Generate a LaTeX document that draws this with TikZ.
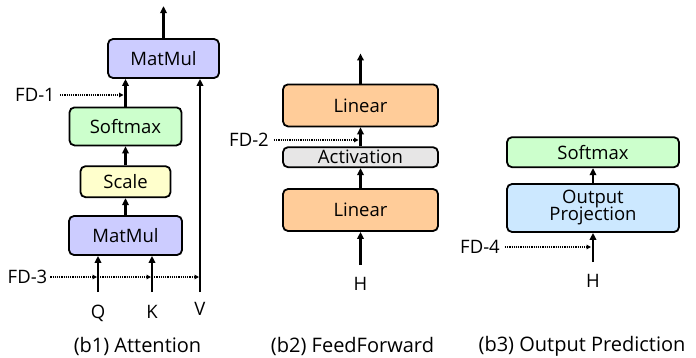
\documentclass[tikz,border=0pt]{standalone}
\usepackage{fontspec}
\setmainfont{Open Sans}
\usetikzlibrary{positioning, arrows.meta}

\definecolor{matmulcol}{HTML}{CCCCFF}
\definecolor{softcol}{HTML}{CCFFCC}
\definecolor{scalecol}{HTML}{FFFFCC}
\definecolor{linearcol}{HTML}{FFCC99}
\definecolor{actcol}{HTML}{E7E6E6}
\definecolor{projcol}{HTML}{CCE8FF}

\tikzset{
	block/.style={draw, line width=1.8pt, rounded corners=5pt, align=center,
		inner sep=0pt, font=\fontsize{18.5}{20}\selectfont},
	flow/.style={line width=2.4pt, -{Triangle[length=7pt,width=6.5pt]}},
	fd/.style={line width=1.2pt, densely dotted, -{Triangle[length=4.5pt,width=4.5pt]}},
	lbl/.style={font=\fontsize{18.5}{20}\selectfont, inner sep=0pt},
	caption/.style={font=\fontsize{20}{24}\selectfont, inner sep=0pt}
}

\begin{document}
\begin{tikzpicture}[x=1pt, y=1pt]
	\useasboundingbox (0,0) rectangle (696,357);

	% (b1) attention
	\node[block, fill=matmulcol, minimum width=113pt, minimum height=39pt] (matmul1) at (125.5,121.5) {MatMul};
	\node[block, fill=scalecol, minimum width=90pt, minimum height=31pt, above=17pt of matmul1] (scale) {Scale};
	\node[block, fill=softcol, minimum width=112pt, minimum height=38pt, above=19pt of scale] (softmax1) {Softmax};
	\node[block, fill=matmulcol, minimum width=111pt, minimum height=39pt] (matmul2) at (163.5,298.5) {MatMul};
	\coordinate[above=32pt of matmul2] (out1);

	\coordinate (qin) at (98,65);
	\coordinate (kin) at (152,65);
	\coordinate (vin) at (200,65);
	\node[lbl, below=13pt of qin] (q) {Q};
	\node[lbl, below=13pt of kin] (k) {K};
	\node[lbl, below=10pt of vin] (v) {V};

	\node[lbl] (fd3) at (27.5,80) {FD-3};
	\node[lbl] (fd1) at (35,262) {FD-1};

	\draw[flow] (qin) -- (qin |- matmul1.south);
	\draw[flow] (kin) -- (kin |- matmul1.south);
	\draw[flow] (vin) -- (vin |- matmul2.south);
	\draw[flow] (matmul1) -- (scale);
	\draw[flow] (scale) -- (softmax1);
	\draw[flow] (softmax1.north) -- (softmax1.north |- matmul2.south);
	\draw[flow] (matmul2) -- (out1);

	\draw[fd, shorten >=1pt] ([xshift=3pt]fd3.east) -- (fd3 -| qin);
	\draw[fd, shorten >=1pt] (fd3 -| qin) -- (fd3 -| kin);
	\draw[fd, shorten >=1pt] (fd3 -| kin) -- (fd3 -| vin);
	\draw[fd, shorten >=2pt] ([xshift=5pt]fd1.east) -- (fd1 -| softmax1.north);

	% (b2) feed-forward
	\node[block, fill=linearcol, minimum width=155pt, minimum height=42pt] (linear1) at (360.5,147) {Linear};
	\node[block, fill=actcol, minimum width=155pt, minimum height=20pt, above=20pt of linear1] (act) {Activation};
	\node[block, fill=linearcol, minimum width=155pt, minimum height=42pt, above=19pt of act] (linear2) {Linear};
	\coordinate[above=30pt of linear2] (out2);
	\coordinate (hin1) at (360.5,92);
	\node[lbl, below=12pt of hin1] (h1) {H};
	\node[lbl] (fd2) at (249,217) {FD-2};

	\draw[flow] (hin1) -- (linear1);
	\draw[flow] (linear1) -- (act);
	\draw[flow] (act) -- (linear2);
	\draw[flow] (linear2) -- (out2);
	\draw[fd, shorten >=2pt] ([xshift=5pt]fd2.east) -- (fd2 -| act.north);

	% (b3) output prediction
	\node[block, fill=projcol, minimum width=172pt, minimum height=48pt] (proj) at (593,149) {Output\\[-3pt]Projection};
	\node[block, fill=softcol, minimum width=172pt, minimum height=30pt, above=15pt of proj] (softmax3) {Softmax};
	\coordinate (hin2) at (593,95);
	\node[lbl, below=12pt of hin2] (h2) {H};
	\node[lbl] (fd4) at (480,110) {FD-4};

	\draw[flow] (hin2) -- (proj);
	\draw[flow] (proj) -- (softmax3);
	\draw[fd, shorten >=2pt] ([xshift=5pt]fd4.east) -- (fd4 -| proj.south);

	% captions
	\node[caption] (cap1) at (137.5,11) {(b1) Attention};
	\node[caption] (cap2) at (352.5,11) {(b2) FeedForward};
	\node[caption] (cap3) at (582,11) {(b3) Output Prediction};
\end{tikzpicture}
\end{document}
